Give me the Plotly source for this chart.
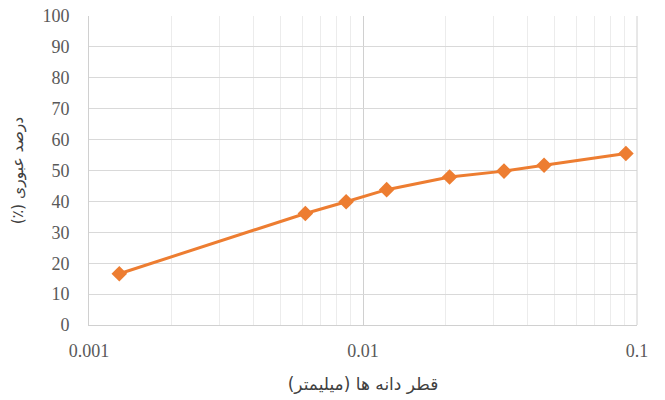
import plotly.graph_objects as go

diameter_mm = [0.00129, 0.00616, 0.00868, 0.0122, 0.0207, 0.0327, 0.0458, 0.0911]
passing_pct = [16.6, 36.1, 39.9, 43.8, 47.9, 49.8, 51.7, 55.5]

x_ticks = [0.001, 0.01, 0.1]
x_tick_labels = ["0.001", "0.01", "0.1"]
x_minor = [k * 10.0 ** e for e in (-3, -2) for k in range(2, 10)]
y_ticks = list(range(0, 101, 10))

RLM = "\u200f"
x_title = RLM + "قطر دانه ها (میلیمتر)" + RLM
y_title = RLM + "درصد عبوری (٪)" + RLM

fig = go.Figure(go.Scatter(
    x=diameter_mm, y=passing_pct, mode="lines+markers",
    line=dict(color="#ED7D31", width=3),
    marker=dict(symbol="diamond", size=12, color="#ED7D31"),
    showlegend=False,
))

tick_font = dict(family="'Liberation Serif', 'Times New Roman', serif", size=18, color="#595959")

fig.update_layout(
    width=665, height=400,
    margin=dict(l=89, r=28, t=16, b=75),
    paper_bgcolor="white", plot_bgcolor="white",
    font=tick_font,
)
fig.update_xaxes(
    type="log", range=[-3, -1], automargin=False,
    tickmode="array", tickvals=x_ticks, ticktext=x_tick_labels,
    tickfont=tick_font, ticklabeloverflow="allow",
    showgrid=True, gridcolor="#d0d0d0", gridwidth=1,
    minor=dict(tickmode="array", tickvals=x_minor, showgrid=True, gridcolor="#ececec", gridwidth=1, ticks=""),
    showline=True, linecolor="#d0d0d0", linewidth=1, mirror=False,
    ticks="", zeroline=False, ticklabelstandoff=9,
    title=dict(text=x_title, font=dict(family="DejaVu Sans, Noto Sans", size=17, color="#404040"), standoff=18),
)
fig.update_yaxes(
    range=[0, 100], tickmode="array", tickvals=y_ticks, automargin=False,
    tickfont=tick_font, ticklabeloverflow="allow",
    showgrid=True, gridcolor="#d9d9d9", gridwidth=1,
    showline=True, linecolor="#d0d0d0", linewidth=1,
    ticks="", zeroline=False, ticklabelstandoff=15,
    title=dict(text=y_title, font=dict(family="DejaVu Sans, Noto Sans", size=15.5, color="#404040"), standoff=14),
)
fig.add_shape(type="line", xref="paper", yref="paper", x0=1, x1=1, y0=0, y1=1,
              line=dict(color="#d0d0d0", width=1))

fig.write_html("out.html", config={"displayModeBar": False},
               post_script="document.body.style.margin = '0';")
